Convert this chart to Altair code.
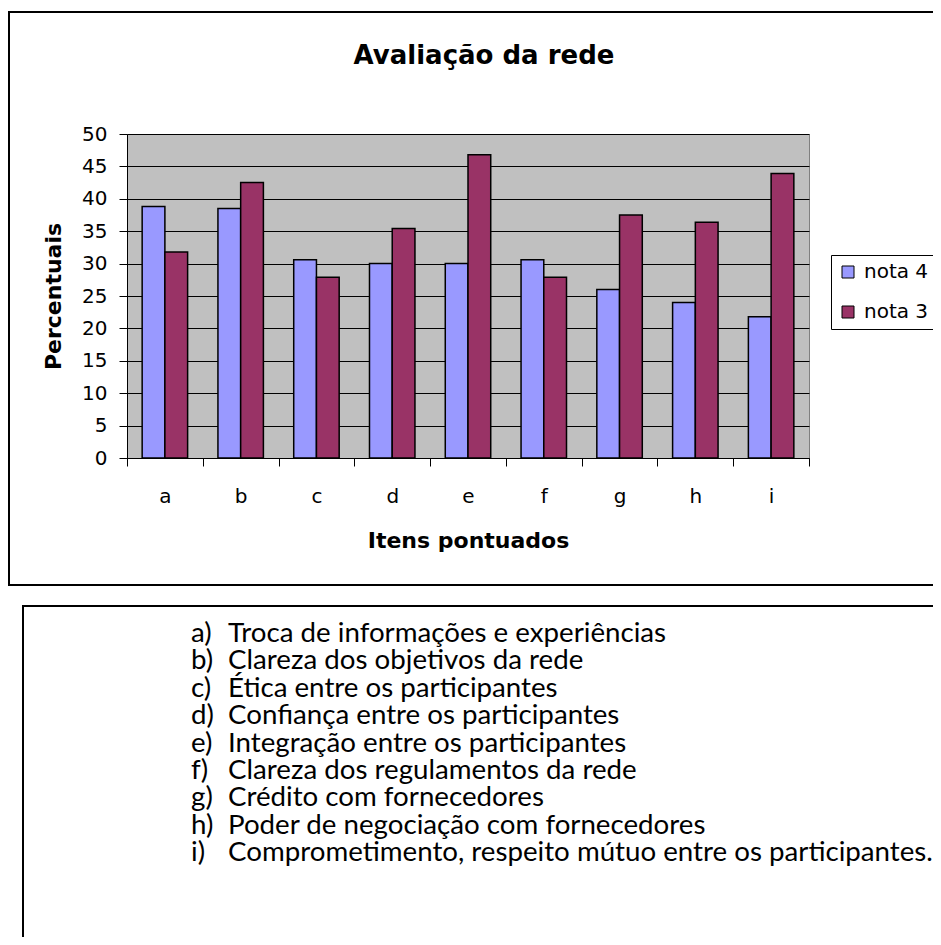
import altair as alt
import pandas as pd

# ---- data ----
items = ["a", "b", "c", "d", "e", "f", "g", "h", "i"]
series = ["nota 4", "nota 3"]
nota4 = [38.8, 38.5, 30.6, 30.0, 30.0, 30.6, 26.0, 24.0, 21.8]
nota3 = [31.8, 42.5, 27.9, 35.4, 46.8, 27.9, 37.5, 36.4, 43.9]
colors = ["#9999FF", "#993366"]
y_ticks = [0, 5, 10, 15, 20, 25, 30, 35, 40, 45, 50]
letters = ["a)", "b)", "c)", "d)", "e)", "f)", "g)", "h)", "i)"]
descriptions = [
    "Troca de informações e experiências",
    "Clareza dos objetivos da rede",
    "Ética entre os participantes",
    "Confiança entre os participantes",
    "Integração entre os participantes",
    "Clareza dos regulamentos da rede",
    "Crédito com fornecedores",
    "Poder de negociação com fornecedores",
    "Comprometimento, respeito mútuo entre os participantes.",
]

bars_df = pd.DataFrame({
    "item": items * 2,
    "serie": [series[0]] * len(items) + [series[1]] * len(items),
    "valor": nota4 + nota3,
})
list_df = pd.DataFrame({"letra": letters, "desc": descriptions})
frame_df = pd.DataFrame({"k": [0]})

FONT = "DejaVu Sans"
LIST_FONT = "Lato"
LIST_SIZE = 27.7

# decorative frames (outer chart box and lower text box)
frame1 = alt.Chart(frame_df).mark_rect(fillOpacity=0, stroke="black", strokeWidth=2).encode(
    x=alt.value(-118), x2=alt.value(900), y=alt.value(-122), y2=alt.value(451)
)
frame2 = alt.Chart(frame_df).mark_rect(fillOpacity=0, stroke="black", strokeWidth=2).encode(
    x=alt.value(-104), x2=alt.value(900), y=alt.value(472), y2=alt.value(900)
)

bars = alt.Chart(bars_df).mark_bar(stroke="black", strokeWidth=1.5).encode(
    x=alt.X(
        "item:N",
        sort=items,
        scale=alt.Scale(paddingInner=0, paddingOuter=0),
        axis=alt.Axis(
            title="Itens pontuados",
            labelAngle=0,
            tickBand="extent",
            tickSize=8,
            labelPadding=20,
            labelFontSize=20,
            titleFontSize=22,
            titleFontWeight="bold",
            titlePadding=24,
            grid=False,
        ),
    ),
    xOffset=alt.XOffset("serie:N", sort=series, scale=alt.Scale(paddingInner=0, paddingOuter=0.667)),
    y=alt.Y(
        "valor:Q",
        scale=alt.Scale(domain=[0, 50], nice=False),
        axis=alt.Axis(
            title="Percentuais",
            values=y_ticks,
            tickSize=8,
            labelPadding=12,
            labelFontSize=20,
            titleFontSize=22,
            titleFontWeight="bold",
            titlePadding=16,
            grid=True,
        ),
    ),
    color=alt.Color(
        "serie:N",
        sort=series,
        scale=alt.Scale(domain=series, range=colors),
        legend=alt.Legend(
            title=None,
            orient="none",
            legendX=704,
            legendY=121,
            strokeColor="black",
            fillColor="white",
            padding=7,
            symbolType="square",
            symbolSize=144,
            symbolStrokeColor="black",
            symbolStrokeWidth=1,
            symbolOpacity=1,
            labelFontSize=20,
            labelFont=FONT,
            labelColor="black",
            rowPadding=20,
            labelOffset=6,
        ),
    ),
)

yscale_list = alt.Scale(type="point", range=[500, 719], padding=0)
list_letters = alt.Chart(list_df).mark_text(
    align="left", baseline="middle", font=LIST_FONT, fontSize=LIST_SIZE, color="black"
).encode(
    x=alt.value(64),
    y=alt.Y("letra:N", sort=letters, scale=yscale_list, axis=None),
    text="letra:N",
)
list_desc = alt.Chart(list_df).mark_text(
    align="left", baseline="middle", font=LIST_FONT, fontSize=LIST_SIZE, color="black"
).encode(
    x=alt.value(101),
    y=alt.Y("letra:N", sort=letters, scale=yscale_list, axis=None),
    text="desc:N",
)

chart = (
    alt.layer(frame1, frame2, bars, list_letters, list_desc)
    .resolve_scale(y="independent")
    .properties(
        width=682,
        height=324,
        autosize="none",
        padding={"left": 119, "top": 126, "right": 124, "bottom": 479},
        title=alt.TitleParams(
            "Avaliação da rede",
            font=FONT,
            fontSize=26,
            fontWeight="bold",
            color="black",
            anchor="middle",
            dx=16,
            baseline="bottom",
            offset=-84,
        ),
    )
    .configure_view(fill="#C0C0C0", stroke="#808080", strokeWidth=1)
    .configure_axis(
        domainColor="black",
        tickColor="black",
        gridColor="black",
        gridOpacity=1,
        labelColor="black",
        titleColor="black",
        labelFont=FONT,
        titleFont=FONT,
    )
)

chart.save("out.html", embed_options={"renderer": "svg", "actions": False})
